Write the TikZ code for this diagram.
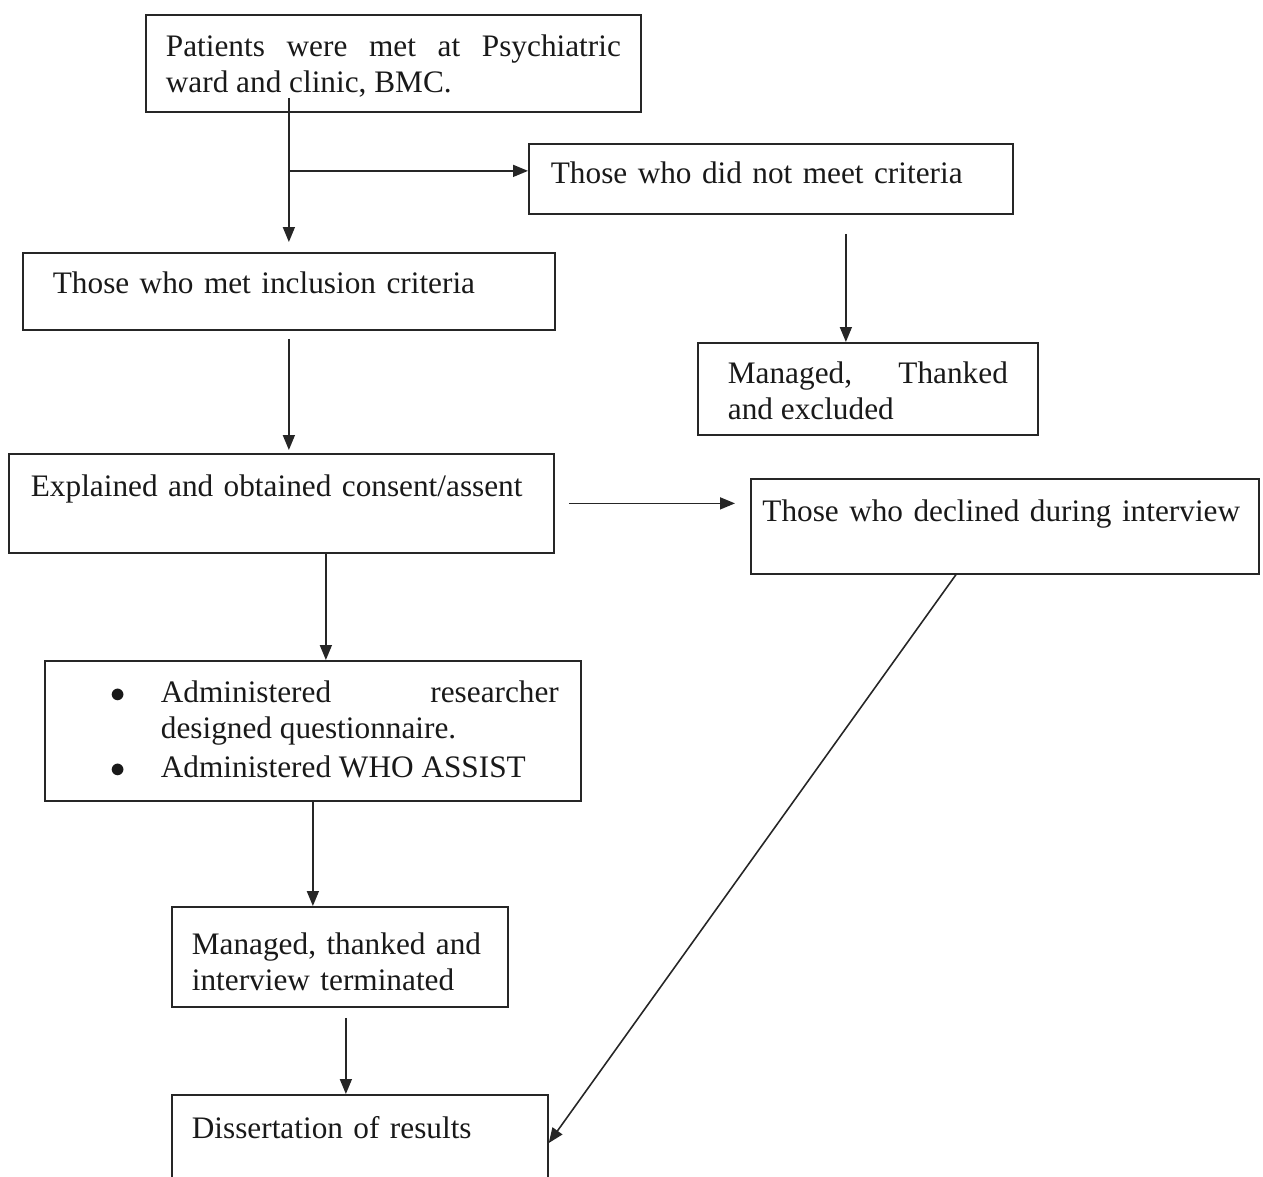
\documentclass[tikz,border=0pt]{standalone}
\usepackage{fontspec}
\setmainfont{Liberation Serif}
\usetikzlibrary{arrows.meta,calc}
\hyphenpenalty=10000
\exhyphenpenalty=10000
\tolerance=10000

\begin{document}
\begin{tikzpicture}[>={Triangle[length=0.3cm,width=0.24cm]},font=\fontsize{17.8}{20.5}\selectfont,
  box/.style={draw=black!85,line width=1pt,anchor=north west,inner ysep=0pt,align=left,text=black!90},
  arr/.style={->,draw=black!85,line width=0.9pt}]
 \useasboundingbox (0,0) rectangle (25.26,-23.52);
 % boxes
 \node[box,align=justify,inner xsep=0.4cm,text width=9.1cm,text height=0.84cm,text depth=1.1cm] (pat) at (2.9,-0.28)
  {Patients were met at Psychiatric ward and clinic, BMC.};
 \node[box,inner xsep=0.44cm,text width=8.8cm,text height=0.8cm,text depth=0.6cm] (notmet) at (10.56,-2.86)
  {Those who did not meet criteria};
 \node[box,inner xsep=0.6cm,text width=9.44cm,text height=0.82cm,text depth=0.72cm] (met) at (0.44,-5.04)
  {Those who met inclusion criteria};
 \node[box,align=justify,inner xsep=0.5cm,text width=5.6cm,text height=0.82cm,text depth=1.02cm,minimum width=6.8cm] (exc) at (13.94,-6.84)
  {Managed, Thanked and excluded};
 \node[box,inner xsep=0.44cm,text width=10.02cm,text height=0.86cm,text depth=1.12cm] (expl) at (0.16,-9.06)
  {Explained and obtained consent/assent};
 \node[box,inner xsep=0.23cm,text width=9.7cm,text height=0.86cm,text depth=1.04cm] (decl) at (15,-9.56)
  {Those who declined during interview};
 \node[box,align=justify,inner xsep=0.44cm,text width=9.84cm,text height=0.84cm,text depth=1.96cm] (quest) at (0.88,-13.2)
  {\hangindent=1.88cm\hangafter=1\noindent\hbox to 1.88cm{\hspace{0.88cm}$\bullet$\hfil}Administered researcher designed questionnaire.\par
   \vspace{1.7pt}\noindent\hbox to 1.88cm{\hspace{0.88cm}$\bullet$\hfil}Administered WHO ASSIST};
 \node[box,inner xsep=0.4cm,text width=5.92cm,text height=0.96cm,text depth=1.04cm] (term) at (3.42,-18.12)
  {Managed, thanked and\\interview terminated};
 \node[box,inner xsep=0.4cm,text width=6.72cm,text height=0.88cm,text depth=1.6cm] (diss) at (3.42,-21.88)
  {Dissertation of results};
 % arrows
 \coordinate (a1) at ($(pat.south -| met.north)+(0,0.3)$);
 \coordinate (b1) at ([yshift=0.16cm]notmet.west);
 \coordinate (a3) at ([xshift=-0.44cm]exc.north);
 \coordinate (a5) at ([xshift=0.26cm]quest.north);
 \draw[arr,shorten >=0.2cm] (a1) -- (met.north);
 \draw[arr] (met.north |- b1) -- (b1);
 \draw[arr,shorten <=0.16cm,shorten >=0.06cm] (met.south) -- (met.south |- expl.north);
 \draw[arr,shorten <=0.38cm] (notmet.south -| a3) -- (a3);
 \draw[arr,shorten <=0.28cm,shorten >=0.3cm] (expl.east) -- (expl.east -| decl.west);
 \draw[arr] (expl.south -| a5) -- (a5);
 \draw[arr] (quest.south) -- (quest.south |- term.north);
 \draw[arr,shorten <=0.2cm] ([xshift=0.12cm]term.south) -- ([xshift=0.12cm]term.south |- diss.north);
 \draw[arr] ([xshift=-0.98cm]decl.south) -- ([yshift=-0.98cm]diss.north east);
\end{tikzpicture}
\end{document}
